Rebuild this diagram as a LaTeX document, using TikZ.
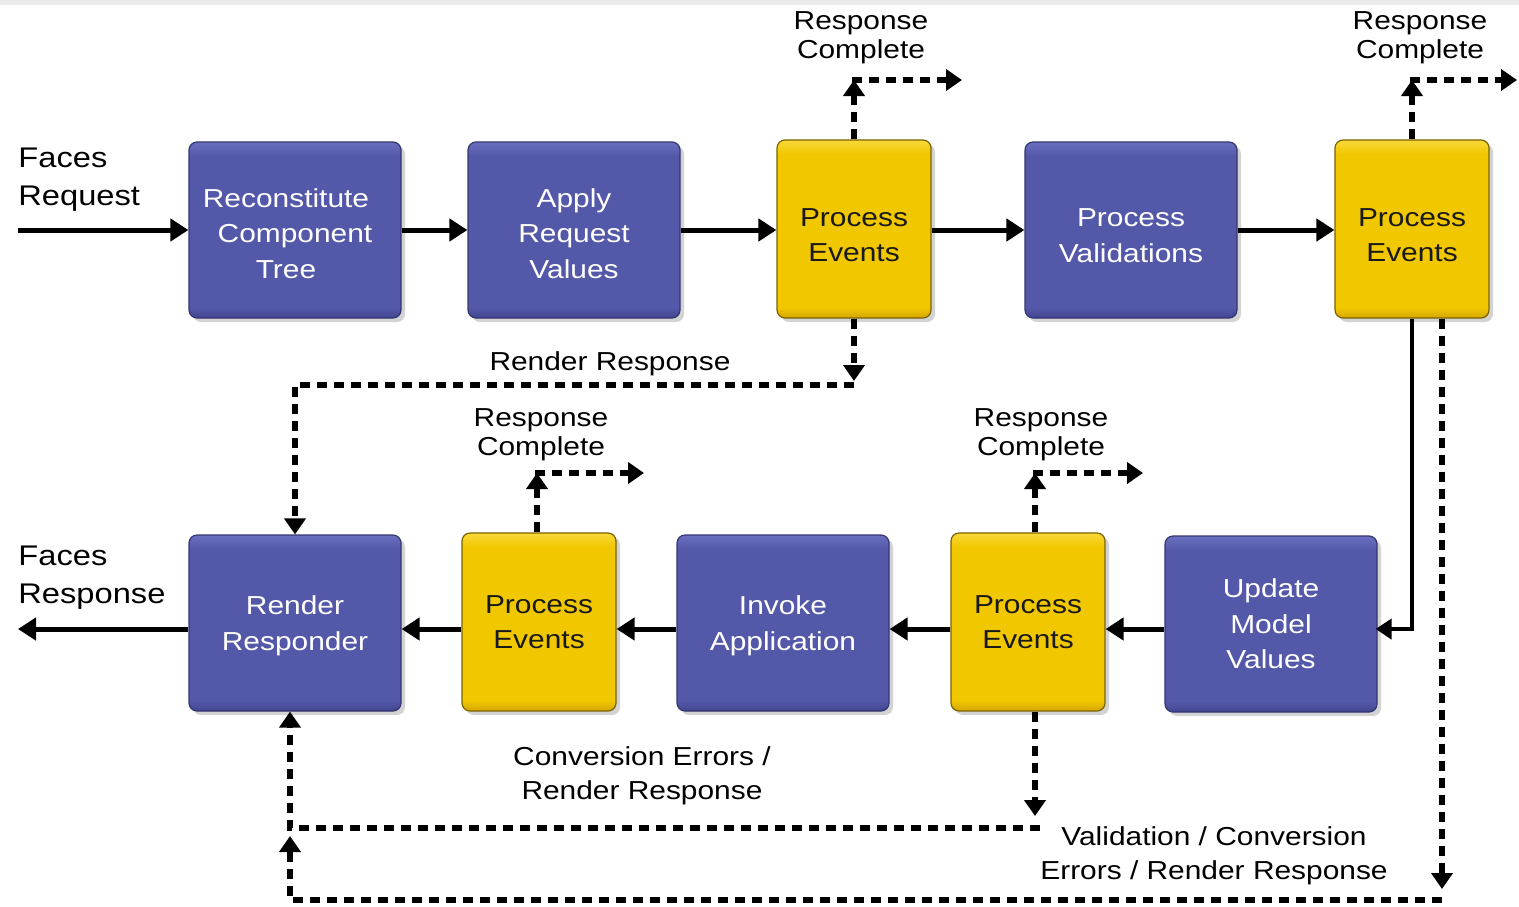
\documentclass[tikz,border=0pt]{standalone}
\usepackage{fontspec}
\setmainfont{Liberation Sans}[FakeStretch=1.15]
\usetikzlibrary{arrows.meta,shadows}
\definecolor{bluemid}{HTML}{5458A8}
\definecolor{bluetop}{HTML}{6A6FBF}
\definecolor{bluebot}{HTML}{414590}
\definecolor{blueedge}{HTML}{33366F}
\definecolor{yelmid}{HTML}{F1C700}
\definecolor{yeltop}{HTML}{F8D93A}
\definecolor{yelbot}{HTML}{D6A600}
\definecolor{yeledge}{HTML}{7A6200}
\pgfdeclareverticalshading{bluebox}{100bp}{color(0bp)=(bluebot); color(25bp)=(bluebot);
  color(28bp)=(bluemid); color(71bp)=(bluemid); color(75bp)=(bluetop); color(100bp)=(bluetop)}
\pgfdeclareverticalshading{yelbox}{100bp}{color(0bp)=(yelbot); color(25bp)=(yelbot);
  color(28bp)=(yelmid); color(71bp)=(yelmid); color(75bp)=(yeltop); color(100bp)=(yeltop)}
\tikzset{
  phase/.style={rectangle,rounded corners=4pt,draw=blueedge,line width=0.6pt,shading=bluebox,
    minimum width=106pt,minimum height=88pt,text=white,align=center,
    font=\fontsize{13}{17.75}\selectfont,text depth=0pt,
    drop shadow={shadow xshift=2pt,shadow yshift=-2pt,opacity=.35}},
  event/.style={phase,draw=yeledge,shading=yelbox,
    minimum width=77pt,minimum height=89pt,text=black!90,
    font=\fontsize{13}{17.5}\selectfont},
  flow/.style={line width=2.5pt,-{Triangle[length=9pt,width=11pt]}},
  back/.style={line width=2.7pt,dash pattern=on 5pt off 3.5pt,-{Triangle[length=8pt,width=10.5pt]}},
  lbl/.style={align=center,inner sep=0pt,font=\fontsize{13}{14.5}\selectfont},
  lblwide/.style={lbl,font=\fontsize{13}{17.25}\selectfont},
  side/.style={align=left,inner sep=0pt,anchor=west,font=\fontsize{14.2}{19}\selectfont}
}
\begin{document}
\begin{tikzpicture}[x=0.5pt,y=-0.5pt]
\useasboundingbox (0,0) rectangle (1519,906);
\fill[black!8] (0,0) rectangle (1519,5);

\node[phase,text height=48.4pt] (rct) at (295,230)
  {Reconstitute\hspace*{9pt}\\Component\hspace*{9pt}\\Tree\hspace*{9pt}};
\node[phase,text height=48.4pt] (arv) at (574,230) {Apply\\Request\\Values};
\node[event,text height=32.3pt] (pe1) at (854,229) {Process\\Events};
\node[phase,text height=32pt] (pv) at (1131,230) {Process\\Validations};
\node[event,text height=32.3pt] (pe2) at (1412,229) {Process\\Events};
\node[phase] (rr) at (295,623) {Render\\Responder};
\node[event] (pe3) at (539,622) {Process\\Events};
\node[phase] (ia) at (783,623) {Invoke\\Application};
\node[event] (pe4) at (1028,622) {Process\\Events};
\node[phase] (umv) at (1271,624) {Update\\Model\\Values};

\node[side] (freq) at (18,180) {Faces\\Request};
\node[side] (fres) at (18,578) {Faces\\Response};
\coordinate (in) at (18,230);
\coordinate (out) at (18,629);

\draw[flow] (in) -- (rct.west |- in);
\draw[flow] (rct.east) -- (arv.west);
\draw[flow] (arv.east) -- (pe1.west |- arv.east);
\draw[flow] (pe1.east |- pv.west) -- (pv.west);
\draw[flow] (pv.east) -- (pe2.west |- pv.east);
\draw[flow] (umv.west |- out) -- (pe4.east |- out);
\draw[flow] (pe4.west |- out) -- (ia.east |- out);
\draw[flow] (ia.west |- out) -- (pe3.east |- out);
\draw[flow] (pe3.west |- out) -- (rr.east |- out);
\draw[flow] (rr.west |- out) -- (out);
\draw[line width=2pt,-{Triangle[length=8pt,width=10pt]}] (pe2.south) |- ([xshift=-1pt]umv.east |- out);

\node[lbl] (rc1) at (861,38) {Response\\Complete};
\node[lbl] (rc2) at (1420,38) {Response\\Complete};
\node[lbl] (rc3) at (541,435) {Response\\Complete};
\node[lbl] (rc4) at (1041,435) {Response\\Complete};
\coordinate (u1) at (854,80);   \coordinate (u1e) at (962,80);
\coordinate (u2) at (1412,80);  \coordinate (u2e) at (1517,80);
\coordinate (u3) at (537,473);  \coordinate (u3e) at (644,473);
\coordinate (u4) at (1035,473); \coordinate (u4e) at (1143,473);
\draw[back] (pe1.north) -- (u1);
\draw[back] ([xshift=-1pt]u1) -- (u1e);
\draw[back] (pe2.north) -- (u2);
\draw[back] ([xshift=-1pt]u2) -- (u2e);
\draw[back] (pe3.north -| u3) -- (u3);
\draw[back] ([xshift=-1pt]u3) -- (u3e);
\draw[back] (pe4.north -| u4) -- (u4);
\draw[back] ([xshift=-1pt]u4) -- (u4e);

\node[lbl] (rrl) at (610,364) {Render Response};
\coordinate (r1) at (854,381);
\coordinate (r2) at (854,385);
\draw[back] (pe1.south) -- (r1);
\draw[back] (r2) -| (rr.north);

\node[lblwide] (cel) at (642,776) {Conversion Errors /\\Render Response};
\coordinate (c1) at (1035,816);
\coordinate (c2) at (1040,828);
\coordinate (c3) at (290,828);
\draw[back] (pe4.south -| c1) -- (c1);
\draw[back] (c2) -- (c3) -- (rr.south -| c3);

\node[lblwide] (vel) at (1214,856) {Validation / Conversion\\Errors / Render Response};
\coordinate (v1) at (1442,889);
\coordinate (v2) at (1442,900);
\coordinate (v3) at (290,900);
\coordinate (v4) at (290,836);
\draw[back] (pe2.south -| v1) -- (v1);
\draw[back] (v2) -- (v3) -- (v4);
\end{tikzpicture}
\end{document}
